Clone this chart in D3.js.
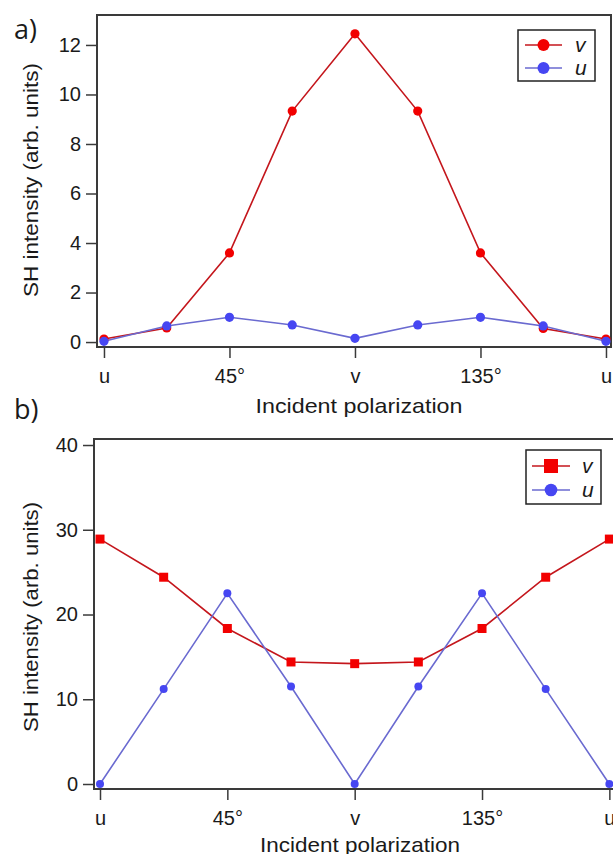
<!DOCTYPE html>
<html>
<head>
<meta charset="utf-8">
<script src="https://cdn.jsdelivr.net/npm/d3@7"></script>
<style>
  html, body { margin: 0; padding: 0; background: #fff; }
  svg { display: block; }
  text { font-family: "Liberation Sans", Arial, sans-serif; fill: #1a1a1a; }
</style>
</head>
<body>
<svg id="chart" width="613" height="854"></svg>
<script>
// ---- data ----
const angles = [0, 22.5, 45, 67.5, 90, 112.5, 135, 157.5, 180];
const tickAngles = [0, 45, 90, 135, 180];
const tickLabels = ["u", "45°", "v", "135°", "u"];
const seriesNames = ["v", "u"];

const aV = [0.12, 0.57, 3.6, 9.33, 12.45, 9.33, 3.6, 0.55, 0.12];
const aU = [0.03, 0.65, 1.0, 0.69, 0.15, 0.69, 1.0, 0.65, 0.03];
const aYTicks = [0, 2, 4, 6, 8, 10, 12];

const bV = [28.9, 24.4, 18.35, 14.4, 14.2, 14.4, 18.35, 24.4, 28.9];
const bU = [0, 11.2, 22.5, 11.5, 0, 11.5, 22.5, 11.2, 0];
const bYTicks = [0, 10, 20, 30, 40];

const svg = d3.select("#chart");
const lineRed = "#c4161c", markRed = "#f20000";
const lineBlue = "#6a6ad0", markBlue = "#4646f2";
const axisCol = "#3a3a3a";

function panel(cfg) {
  const x = d3.scaleLinear().domain(cfg.xDomain).range([cfg.left, cfg.right]);
  const y = d3.scaleLinear().domain(cfg.yDomain).range([cfg.bottom, cfg.top]);
  const g = svg.append("g");

  // frame
  g.append("rect")
    .attr("x", cfg.left).attr("y", cfg.top)
    .attr("width", cfg.right - cfg.left).attr("height", cfg.bottom - cfg.top)
    .attr("fill", "none").attr("stroke", axisCol).attr("stroke-width", 2);

  // x axis
  const xAxis = d3.axisBottom(x).tickValues(tickAngles)
    .tickFormat((d, i) => tickLabels[i]).tickSize(11).tickPadding(11);
  const gx = g.append("g").attr("transform", `translate(0,${cfg.bottom})`).call(xAxis);
  gx.select(".domain").remove();
  gx.selectAll(".tick line").attr("stroke", axisCol).attr("stroke-width", 1.5);
  gx.selectAll(".tick text").style("font-size", "20px")
    .style("font-family", "Liberation Sans, Arial, sans-serif").attr("fill", "#1a1a1a");

  // y axis
  const yAxis = d3.axisLeft(y).tickValues(cfg.yTicks).tickSize(11).tickPadding(5);
  const gy = g.append("g").attr("transform", `translate(${cfg.left},0)`).call(yAxis);
  gy.select(".domain").remove();
  gy.selectAll(".tick line").attr("stroke", axisCol).attr("stroke-width", 1.5);
  gy.selectAll(".tick text").style("font-size", "20px")
    .style("font-family", "Liberation Sans, Arial, sans-serif").attr("fill", "#1a1a1a");

  // titles
  g.append("text").attr("x", cfg.xTitleX).attr("y", cfg.xTitleY)
    .attr("text-anchor", "middle").style("font-size", "21px")
    .attr("textLength", cfg.xTitleLen).attr("lengthAdjust", "spacingAndGlyphs")
    .text("Incident polarization");
  g.append("text")
    .attr("transform", `translate(${cfg.yTitleX},${cfg.yTitleY}) rotate(-90)`)
    .attr("text-anchor", "middle").style("font-size", "21px")
    .attr("textLength", cfg.yTitleLen).attr("lengthAdjust", "spacingAndGlyphs")
    .text("SH intensity (arb. units)");
  g.append("text").attr("x", 14).attr("y", cfg.labelY)
    .style("font-size", "27px").style("font-family", "Open Sans, Liberation Sans, sans-serif")
    .text(cfg.label);

  // series
  const line = d3.line().x((d, i) => x(angles[i])).y(d => y(d));
  const series = [
    { vals: cfg.v, line: lineRed, mark: markRed, shape: cfg.vShape, size: cfg.vSize },
    { vals: cfg.u, line: lineBlue, mark: markBlue, shape: "circle", size: cfg.uSize }
  ];
  series.forEach(s => {
    g.append("path").datum(s.vals).attr("d", line)
      .attr("fill", "none").attr("stroke", s.line).attr("stroke-width", 1.6);
  });
  series.forEach(s => {
    drawMarks(g, s.vals.map((d, i) => [x(angles[i]), y(d)]), s.shape, s.size, s.mark);
  });

  // legend
  const L = cfg.legend;
  g.append("rect").attr("x", L.x).attr("y", L.y).attr("width", L.w).attr("height", L.h)
    .attr("fill", "#fff").attr("stroke", "#222").attr("stroke-width", 1.5);
  series.forEach((s, i) => {
    const yy = L.rowY[i];
    g.append("line").attr("x1", L.lx1).attr("x2", L.lx2).attr("y1", yy).attr("y2", yy)
      .attr("stroke", s.line).attr("stroke-width", 1.6);
    drawMarks(g, [[(L.lx1 + L.lx2) / 2, yy]], s.shape, s.shape === "square" ? L.sq : L.r, s.mark);
    g.append("text").attr("x", L.tx).attr("y", yy + 7)
      .style("font-size", "21px").style("font-style", "italic")
      .text(seriesNames[i]);
  });
}

function drawMarks(g, pts, shape, size, color) {
  if (shape === "square") {
    g.selectAll(null).data(pts).enter().append("rect")
      .attr("x", d => d[0] - size / 2).attr("y", d => d[1] - size / 2)
      .attr("width", size).attr("height", size).attr("fill", color);
  } else {
    g.selectAll(null).data(pts).enter().append("circle")
      .attr("cx", d => d[0]).attr("cy", d => d[1]).attr("r", size).attr("fill", color);
  }
}

panel({
  label: "a)", labelY: 39,
  left: 97, right: 611, top: 15, bottom: 347,
  xDomain: [-2.5, 181.8], yDomain: [-0.2, 13.21], yTicks: aYTicks,
  v: aV, u: aU, vShape: "circle", vSize: 4.6, uSize: 4.6,
  xTitleX: 359, xTitleY: 413, xTitleLen: 207,
  yTitleX: 38, yTitleY: 180, yTitleLen: 234,
  legend: { x: 518, y: 30, w: 77, h: 51, rowY: [45, 68], lx1: 525, lx2: 562, tx: 575, r: 6, sq: 12 }
});

panel({
  label: "b)", labelY: 419,
  left: 94, right: 617, top: 439, bottom: 789,
  xDomain: [-2.12, 182.7], yDomain: [-0.59, 40.71], yTicks: bYTicks,
  v: bV, u: bU, vShape: "square", vSize: 9, uSize: 4,
  xTitleX: 360, xTitleY: 852, xTitleLen: 200,
  yTitleX: 38, yTitleY: 617, yTitleLen: 230,
  legend: { x: 526, y: 450, w: 75, h: 54, rowY: [466, 490], lx1: 532, lx2: 570, tx: 582, r: 6.3, sq: 14 }
});
</script>
</body>
</html>
